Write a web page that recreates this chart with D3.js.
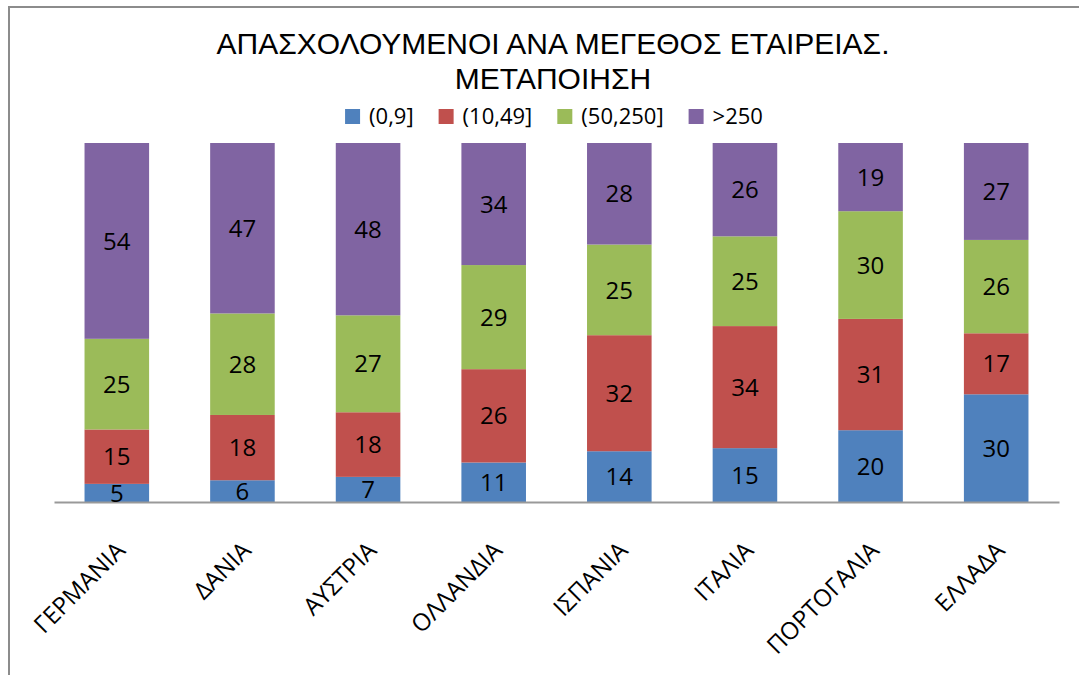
<!DOCTYPE html>
<html>
<head>
<meta charset="utf-8">
<script src="https://cdn.jsdelivr.net/npm/d3@7"></script>
<style>
  html, body { margin: 0; padding: 0; background: #fff; }
  svg { display: block; }
</style>
</head>
<body>
<svg id="chart" width="1079" height="675"></svg>
<script>
// ---- data ----
const categories = ["ΓΕΡΜΑΝΙΑ", "ΔΑΝΙΑ", "ΑΥΣΤΡΙΑ", "ΟΛΛΑΝΔΙΑ", "ΙΣΠΑΝΙΑ", "ΙΤΑΛΙΑ", "ΠΟΡΤΟΓΑΛΙΑ", "ΕΛΛΑΔΑ"];
const seriesNames = ["(0,9]", "(10,49]", "(50,250]", ">250"];
const size0to9 = [5, 6, 7, 11, 14, 15, 20, 30];
const size10to49 = [15, 18, 18, 26, 32, 34, 31, 17];
const size50to250 = [25, 28, 27, 29, 25, 25, 30, 26];
const sizeOver250 = [54, 47, 48, 34, 28, 26, 19, 27];
const seriesColors = ["#4F81BD", "#C0504D", "#9BBB59", "#8064A2"];
const titleLines = ["ΑΠΑΣΧΟΛΟΥΜΕΝΟΙ ΑΝΑ ΜΕΓΕΘΟΣ ΕΤΑΙΡΕΙΑΣ.", "ΜΕΤΑΠΟΙΗΣΗ"];

const seriesValues = [size0to9, size10to49, size50to250, sizeOver250];
const table = categories.map((c, i) => {
  const row = { cat: c };
  seriesNames.forEach((s, j) => row[s] = seriesValues[j][i]);
  return row;
});

const svg = d3.select("#chart");
const labelFont = "'Open Sans', 'DejaVu Sans', sans-serif";

// outer frame (only top and left edges are visible in the picture)
svg.append("rect")
  .attr("x", 9).attr("y", 7)
  .attr("width", 1200).attr("height", 800)
  .attr("fill", "none").attr("stroke", "#8c8c8c").attr("stroke-width", 2);

// title
const title = svg.append("text")
  .attr("text-anchor", "middle")
  .attr("font-family", "'Liberation Sans', Arial, sans-serif")
  .attr("font-size", 30)
  .attr("fill", "#000");
titleLines.forEach((t, i) => {
  title.append("tspan").attr("x", 553).attr("y", 54 + i * 35).text(t);
});

// scales
const x = d3.scaleBand().domain(categories).range([54, 1059])
  .paddingInner(0.486).paddingOuter(0.243);
const y = d3.scaleLinear().domain([0, 1]).range([502, 143]);

const stacked = d3.stack().keys(seriesNames).offset(d3.stackOffsetExpand)(table);

const layers = svg.append("g").selectAll("g")
  .data(stacked).join("g")
  .attr("fill", (d, i) => seriesColors[i]);

layers.selectAll("rect")
  .data(d => d)
  .join("rect")
  .attr("x", d => x(d.data.cat))
  .attr("width", x.bandwidth())
  .attr("y", d => y(d[1]))
  .attr("height", d => y(d[0]) - y(d[1]));

// axis line
const xAxis = d3.axisBottom(x).tickSize(0).tickPadding(0);
const axisG = svg.append("g").attr("transform", "translate(0,502)").call(xAxis);
axisG.select(".domain").attr("stroke", "#999").attr("stroke-width", 2);
axisG.selectAll(".tick text")
  .attr("font-family", labelFont)
  .attr("font-size", 24)
  .attr("fill", "#000")
  .attr("text-anchor", "end")
  .attr("dy", 0)
  .attr("y", 0)
  .attr("transform", "translate(10,50) rotate(-45)");

// data labels
const labelsG = svg.append("g")
  .attr("font-family", labelFont)
  .attr("font-size", 24)
  .attr("fill", "#000")
  .attr("text-anchor", "middle");
stacked.forEach((layer, j) => {
  labelsG.selectAll(null)
    .data(layer)
    .join("text")
    .attr("x", d => x(d.data.cat) + x.bandwidth() / 2)
    .attr("y", d => (y(d[0]) + y(d[1])) / 2)
    .attr("dy", "0.36em")
    .text(d => d.data[layer.key]);
});

// legend
const legend = svg.append("g")
  .attr("font-family", labelFont)
  .attr("font-size", 22)
  .attr("fill", "#000");
const sq = 15, gapAfterSq = 9, gapItems = 25;
const items = seriesNames.map((s, i) => {
  const g = legend.append("g");
  g.append("rect").attr("width", sq).attr("height", sq).attr("y", 109).attr("fill", seriesColors[i]);
  const t = g.append("text").attr("x", sq + gapAfterSq).attr("y", 124).text(s);
  return { g, w: sq + gapAfterSq + t.node().getComputedTextLength() };
});
const totalW = d3.sum(items, d => d.w) + gapItems * (items.length - 1);
let cx = 554 - totalW / 2;
items.forEach(it => {
  it.g.attr("transform", `translate(${cx},0)`);
  cx += it.w + gapItems;
});
</script>
</body>
</html>
